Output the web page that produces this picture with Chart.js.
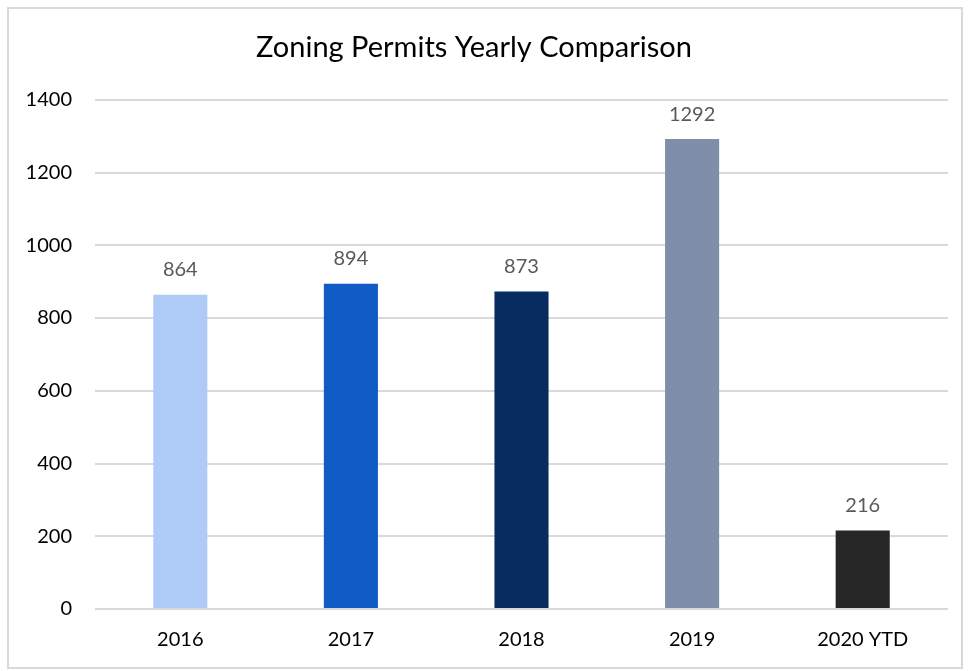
<!DOCTYPE html>
<html lang="en">
<head>
    <meta charset="UTF-8">
    <title>Zoning Permits Yearly Comparison</title>
    <script src="https://cdn.jsdelivr.net/npm/chart.js"></script>
    <style>
        body { margin: 0; padding: 0; background: #fff; }
        #chart-container { position: absolute; left: 0; top: 0; width: 969px; height: 671px; }
    </style>
</head>
<body>
    <div id="chart-container">
        <canvas id="permitsChart"></canvas>
    </div>
    <script>
        // Data
        const years = ['2016', '2017', '2018', '2019', '2020 YTD'];
        const permits = [864, 894, 873, 1292, 216];
        const barColors = ['#AECBF8', '#115BC6', '#072C60', '#7F8FAA', '#262626'];
        const yTicks = [0, 200, 400, 600, 800, 1000, 1200, 1400];

        const fontFamily = 'Lato, "Liberation Sans", sans-serif';

        // outer light grey frame
        const framePlugin = {
            id: 'frame',
            afterDraw(chart) {
                const c = chart.ctx;
                c.save();
                c.strokeStyle = '#d9d9d9';
                c.lineWidth = 2;
                c.strokeRect(8, 8, 954, 660);
                c.restore();
            }
        };

        // value labels above bars
        const valueLabels = {
            id: 'valueLabels',
            afterDatasetsDraw(chart) {
                const c = chart.ctx;
                const meta = chart.getDatasetMeta(0);
                c.save();
                c.fillStyle = '#595959';
                c.font = '20px ' + fontFamily;
                c.textAlign = 'center';
                c.textBaseline = 'middle';
                meta.data.forEach((bar, i) => {
                    c.fillText(permits[i], bar.x, bar.y - 25);
                });
                c.restore();
            }
        };

        const ctx = document.getElementById('permitsChart').getContext('2d');
        new Chart(ctx, {
            type: 'bar',
            data: {
                labels: years,
                datasets: [{
                    label: 'Zoning Permits',
                    data: permits,
                    backgroundColor: barColors,
                    categoryPercentage: 1,
                    barPercentage: 0.317
                }]
            },
            options: {
                responsive: true,
                maintainAspectRatio: false,
                animation: false,
                layout: { padding: { top: 10, right: 21, bottom: 8, left: 0 } },
                plugins: {
                    legend: { display: false },
                    tooltip: { enabled: false },
                    title: {
                        display: true,
                        text: 'Zoning Permits Yearly Comparison',
                        color: '#000',
                        font: { family: fontFamily, size: 29, weight: 'normal' },
                        padding: { top: 20, bottom: 35 }
                    }
                },
                scales: {
                    x: {
                        grid: { display: false },
                        border: { display: false },
                        ticks: { color: '#000', font: { family: fontFamily, size: 20 }, padding: 11 }
                    },
                    y: {
                        min: 0,
                        max: 1400,
                        afterFit(scale) { scale.width = 95; },
                        afterBuildTicks(scale) { scale.ticks = yTicks.map(v => ({ value: v })); },
                        grid: { color: '#d9d9d9', lineWidth: 2, drawTicks: false },
                        border: { display: false },
                        ticks: {
                            color: '#000',
                            font: { family: fontFamily, size: 20 },
                            padding: 23,
                            callback: v => String(v)
                        }
                    }
                }
            },
            plugins: [framePlugin, valueLabels]
        });
    </script>
</body>
</html>
